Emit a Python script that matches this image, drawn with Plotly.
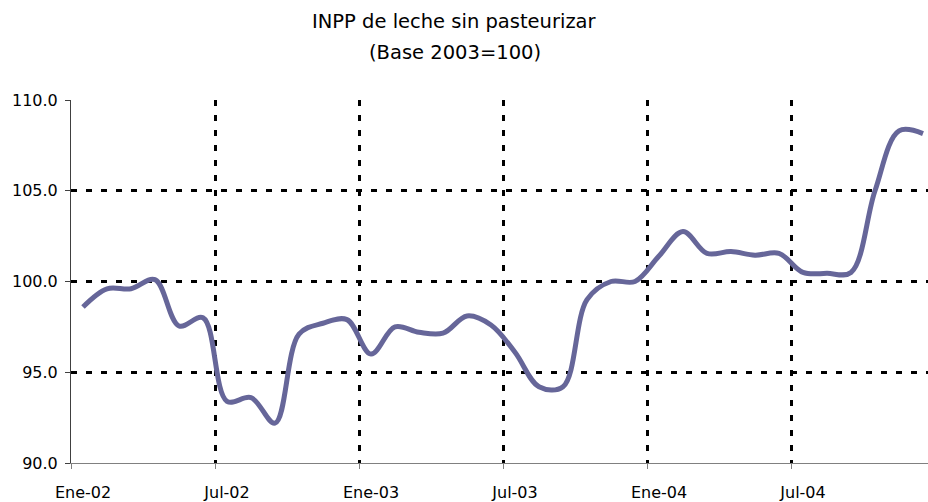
import plotly.graph_objects as go

# Monthly periods, January 2002 to December 2004
months = ["Ene", "Feb", "Mar", "Abr", "May", "Jun",
          "Jul", "Ago", "Sep", "Oct", "Nov", "Dic"]
years = ["02", "03", "04"]
periods = [f"{m}-{y}" for y in years for m in months]

# INPP, unpasteurised milk (base 2003 = 100)
inpp = [
    98.6, 99.6, 99.6, 100.1, 97.55, 98.0, 93.4, 93.6, 92.2, 97.1, 97.7, 97.9,
    96.0, 97.5, 97.2, 97.15, 98.1, 97.6, 96.1, 94.2, 94.2, 99.0, 100.0, 100.0,
    101.4, 102.75, 101.55, 101.65, 101.45, 101.55, 100.5, 100.45, 100.5, 105.0, 108.3, 108.15,
]

tick_labels = ["Ene-02", "Jul-02", "Ene-03", "Jul-03", "Ene-04", "Jul-04"]
y_ticks = [90, 95, 100, 105, 110]
title_lines = ["INPP de leche sin pasteurizar", "(Base 2003=100)"]

x_idx = list(range(len(periods)))
label_pos = [periods.index(t) for t in tick_labels]
# category boundaries sit half a month before each labelled month
bounds = [p - 0.5 for p in label_pos]

FONT = "DejaVu Sans"
GRID = dict(showgrid=True, gridcolor="black", gridwidth=3, griddash="6px,9px")

fig = go.Figure(
    go.Scatter(
        x=x_idx,
        y=inpp,
        customdata=periods,
        mode="lines",
        line=dict(color="#666699", width=5, shape="spline", smoothing=1.0),
        hovertemplate="%{customdata}: %{y:.1f}<extra></extra>",
    )
)

fig.update_layout(
    width=928,
    height=502,
    margin=dict(l=71, r=0, t=100, b=39),
    paper_bgcolor="white",
    plot_bgcolor="white",
    showlegend=False,
    font=dict(family=FONT, color="black"),
)

# two-line heading, centred over the chart
for text, ypos in zip(title_lines, [1.215, 1.132]):
    fig.add_annotation(
        text=text,
        xref="paper",
        yref="paper",
        x=0.448,
        y=ypos,
        xanchor="center",
        yanchor="middle",
        showarrow=False,
        font=dict(family=FONT, size=19.5, color="black"),
    )

fig.update_xaxes(
    range=[-0.5, -0.5 + 857 / 24],
    tickmode="array",
    tickvals=bounds,
    ticktext=tick_labels,
    ticks="outside",
    ticklen=5,
    tickwidth=1,
    tickcolor="#808080",
    ticklabelshift=12,
    ticklabelstandoff=10,
    tickfont=dict(family=FONT, size=16, color="black"),
    showgrid=False,
    zeroline=False,
    showline=True,
    linecolor="#808080",
    linewidth=1,
    minor=dict(tickmode="array", tickvals=bounds[1:], ticks="", **GRID),
)

fig.update_yaxes(
    range=[90, 110],
    tickmode="array",
    tickvals=y_ticks,
    tickformat=".1f",
    ticks="outside",
    ticklen=5,
    tickwidth=1,
    tickcolor="#404040",
    ticklabelstandoff=4,
    tickfont=dict(family=FONT, size=16, color="black"),
    showgrid=False,
    zeroline=False,
    showline=True,
    linecolor="#404040",
    linewidth=1,
    minor=dict(tickmode="array", tickvals=y_ticks[1:], ticks="", **GRID),
)

fig.write_html("out.html")
